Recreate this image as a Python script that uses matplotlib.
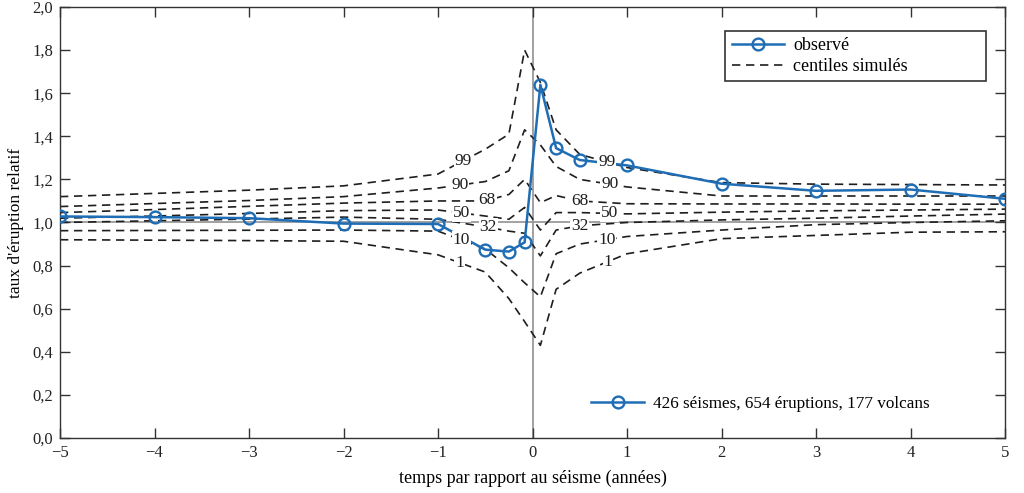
import numpy as np
import matplotlib.pyplot as plt
from matplotlib.lines import Line2D
from matplotlib.ticker import FuncFormatter

# ---------------------------------------------------------
# data
# ---------------------------------------------------------
t_obs = [-5, -4, -3, -2, -1, -0.5, -0.25, -1/12, 1/12, 0.25, 0.5, 1, 2, 3, 4, 5]
taux_obs = [1.028, 1.025, 1.02, 0.995, 0.993, 0.874, 0.865, 0.908,
            1.639, 1.345, 1.29, 1.265, 1.18, 1.147, 1.153, 1.11]

t_sim = [-5, -4, -3, -2, -1, -0.5, -0.25, -1/12, 1/12, 0.25, 0.5, 1, 2, 3, 4, 5]
c99 = [1.12, 1.135, 1.15, 1.17, 1.225, 1.34, 1.41, 1.80, 1.65, 1.43, 1.316, 1.255, 1.185, 1.178, 1.176, 1.174]
c90 = [1.074, 1.088, 1.102, 1.12, 1.16, 1.19, 1.24, 1.43, 1.36, 1.26, 1.20, 1.165, 1.123, 1.123, 1.123, 1.123]
c68 = [1.046, 1.06, 1.075, 1.09, 1.10, 1.10, 1.13, 1.20, 1.092, 1.125, 1.10, 1.087, 1.086, 1.086, 1.085, 1.085]
c50 = [1.02, 1.03, 1.042, 1.055, 1.058, 1.03, 1.015, 1.07, 0.965, 1.046, 1.046, 1.04, 1.048, 1.054, 1.058, 1.062]
c32 = [1.0, 1.008, 1.016, 1.025, 1.015, 0.98, 0.96, 0.95, 0.845, 0.965, 0.985, 1.0, 1.012, 1.02, 1.03, 1.039]
c10 = [0.962, 0.963, 0.964, 0.965, 0.96, 0.877, 0.79, 0.72, 0.655, 0.855, 0.90, 0.935, 0.965, 0.99, 1.0, 1.008]
c1 = [0.92, 0.918, 0.916, 0.913, 0.85, 0.77, 0.647, 0.54, 0.43, 0.69, 0.765, 0.855, 0.925, 0.94, 0.955, 0.957]

centiles = ['99', '90', '68', '50', '32', '10', '1']
courbes = [c99, c90, c68, c50, c32, c10, c1]
# where the inline labels sit along each curve (left / right of t=0)
lab_left = [-0.73, -0.77, -0.48, -0.75, -0.47, -0.75, -0.77]
lab_right = [0.785, 0.82, 0.5, 0.82, 0.5, 0.785, 0.80]

bleu = '#1f6db5'
fam = ['Liberation Serif', 'DejaVu Serif']
plt.rcParams['font.family'] = fam

fig = plt.figure(figsize=(10.24, 4.93), dpi=100)
ax = fig.add_axes([60/1024, 55/493, 945/1024, 431/493])

# reference lines
ax.axhline(1.0, color='#9a9a9a', lw=1.3, zorder=1)
ax.axvline(0.0, color='#9a9a9a', lw=1.3, zorder=1)

# simulated centiles
for c in courbes:
    ax.plot(t_sim, c, color='#1e1e1e', lw=1.2, dashes=(5, 3.4), zorder=2)

# observed
ax.plot(t_obs, taux_obs, '-o', color=bleu, lw=1.8, ms=8.5, mfc='none',
        mec=bleu, mew=1.7, zorder=3)

# inline centile labels
for nom, c, xl, xr in zip(centiles, courbes, lab_left, lab_right):
    for xx in (xl, xr):
        yy = np.interp(xx, t_sim, c)
        ax.text(xx, yy, nom, ha='center', va='center', fontsize=12.5, zorder=4,
                color='#1e1e1e',
                bbox=dict(facecolor='white', edgecolor='none', pad=0.6))

ax.set_xlim(-5, 5)
ax.set_ylim(0, 2.0)
ax.set_xticks(np.arange(-5, 6, 1))
ax.set_yticks(np.arange(0, 2.01, 0.2))
ax.yaxis.set_major_formatter(FuncFormatter(lambda v, p: f'{v:.1f}'.replace('.', ',')))
ax.tick_params(direction='in', top=True, right=True, length=7, width=1,
               labelsize=12, pad=5, colors='#333333', labelcolor='#222222')
for s in ax.spines.values():
    s.set_linewidth(1.0)
    s.set_color('#333333')

ax.set_xlabel('temps par rapport au séisme (années)', fontsize=13, labelpad=6)
ax.set_ylabel("taux d'éruption relatif", fontsize=12.5, labelpad=6)

# legends
h_obs = Line2D([], [], color=bleu, lw=1.8, marker='o', ms=8.5, mfc='none', mew=1.7)
h_sim = Line2D([], [], color='#1e1e1e', lw=1.2, dashes=(5, 3.4))
leg1 = ax.legend([h_obs, h_sim], ['observé', 'centiles simulés'],
                 loc='upper left', bbox_to_anchor=(0.704, 0.944, 0.276, 0),
                 mode='expand', borderaxespad=0,
                 fancybox=False, edgecolor='#333333', framealpha=1,
                 handlelength=2.9, handletextpad=0.5, fontsize=13,
                 borderpad=0.35, labelspacing=0.2)
leg1.get_frame().set_linewidth(1.2)
ax.add_artist(leg1)
ax.legend([h_obs], ['426 séismes, 654 éruptions, 177 volcans'],
          loc='center left', bbox_to_anchor=(0.555, 0.079), borderaxespad=0,
          frameon=False, handlelength=3.1, handletextpad=0.5, fontsize=12.3)

fig.savefig('out.png', dpi=100)
